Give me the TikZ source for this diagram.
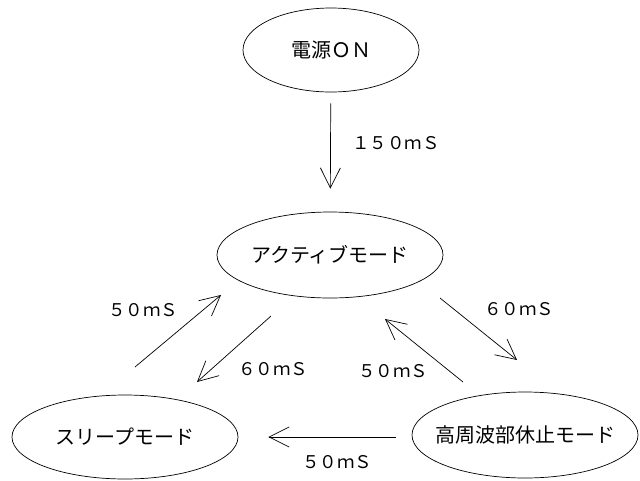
\documentclass[tikz,border=0pt]{standalone}
\usepackage{fontspec}
\setmainfont{Noto Sans CJK JP}
\usetikzlibrary{arrows.meta,shapes.geometric}
\newcommand{\nobox}[1]{\makebox[0pt]{#1}}
\begin{document}
\begin{tikzpicture}[x=1pt,y=-1pt,
  state/.style={draw,ellipse,line width=0.7pt,inner sep=0pt,font=\fontsize{20}{24}\selectfont},
  arr/.style={line width=0.7pt,-{Straight Barb[length=20pt,width=20pt,line width=0.7pt]}},
  lbl/.style={font=\fontsize{17.5}{20}\selectfont,inner sep=0pt}]
\useasboundingbox (0,0) rectangle (640,480);
\node[state,minimum width=176pt,minimum height=84pt] (on) at (331,50) {\nobox{電源ＯＮ}};
\node[state,minimum width=226pt,minimum height=86pt] (act) at (330,255) {\nobox{アクティブモード}};
\node[state,minimum width=226pt,minimum height=84pt] (sl) at (125,437) {\nobox{スリープモード}};
\node[state,minimum width=226pt,minimum height=86pt] (hf) at (525,435) {\nobox{高周波部休止モード}};
% arrow end points
\coordinate (a1s) at (135,367); \coordinate (a1e) at (221,295);
\coordinate (a2s) at (271,316); \coordinate (a2e) at (197,382);
\coordinate (a3s) at (463,382); \coordinate (a3e) at (385,319);
\coordinate (a4s) at (440,298); \coordinate (a4e) at (517,360);
\draw[arr,shorten <=11pt,shorten >=23pt] (on) -- (act);
\draw[arr,shorten <=16pt,shorten >=30pt] (hf.west |- sl.east) -- (sl.east);
\draw[arr] (a1s) -- (a1e);
\draw[arr] (a2s) -- (a2e);
\draw[arr] (a3s) -- (a3e);
\draw[arr] (a4s) -- (a4e);
\node[lbl] (l1) at (396,143) {１５０ｍＳ};
\node[lbl] (l2) at (143,310) {５０ｍＳ};
\node[lbl] (l3) at (273,369) {６０ｍＳ};
\node[lbl] (l4) at (393,371) {５０ｍＳ};
\node[lbl] (l5) at (519,309) {６０ｍＳ};
\node[lbl] (l6) at (337,462) {５０ｍＳ};
\end{tikzpicture}
\end{document}
